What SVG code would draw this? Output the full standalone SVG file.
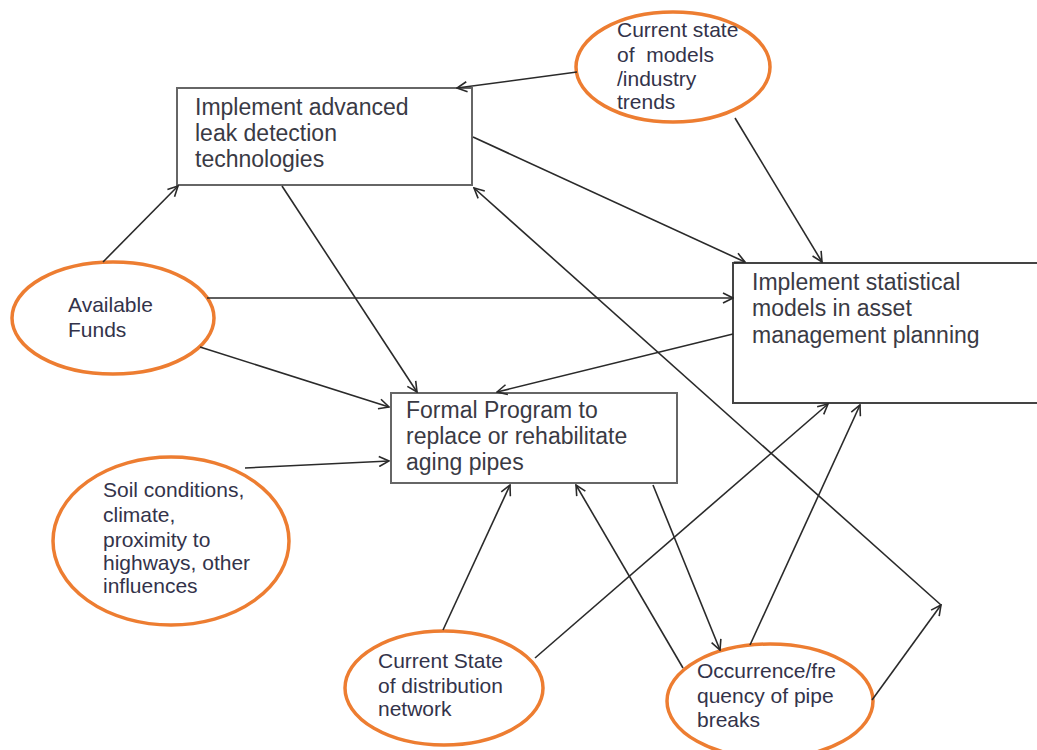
<svg xmlns="http://www.w3.org/2000/svg" width="1037" height="750" viewBox="0 0 1037 750">
<style>
.box{fill:#fff;stroke:#666;stroke-width:2}
.ell{fill:#fff;stroke:#ED7D31;stroke-width:3.5}
.bt{font-family:"Liberation Sans",Arial,sans-serif;font-size:23px;fill:#3a3a44}
.et{font-family:"Liberation Sans",Arial,sans-serif;font-size:21px;fill:#33334a;white-space:pre}
.c line{stroke:#2a2a2a;stroke-width:1.6;marker-end:url(#ah)}
</style>
<defs>
<marker id="ah" viewBox="0 0 12 12" refX="11" refY="6" markerWidth="12" markerHeight="12" markerUnits="userSpaceOnUse" orient="auto">
<path d="M1,1 L11,6 L1,11" fill="none" stroke="#2a2a2a" stroke-width="1.6"/>
</marker>
</defs>
<rect width="1037" height="750" fill="#fff"/>
<g id="n-leak">
<rect class="box" x="177" y="88" width="295" height="97"/>
<text class="bt" x="195" y="115">Implement advanced</text>
<text class="bt" x="195" y="141">leak detection</text>
<text class="bt" x="195" y="167">technologies</text>
</g>
<g id="n-stat">
<rect class="box" x="733" y="263" width="310" height="140" style="stroke:#444"/>
<text class="bt" x="752" y="290">Implement statistical</text>
<text class="bt" x="752" y="316">models in asset</text>
<text class="bt" x="752" y="343">management planning</text>
</g>
<g id="n-formal">
<rect class="box" x="391" y="393" width="286" height="90"/>
<text class="bt" x="406" y="418">Formal Program to</text>
<text class="bt" x="406" y="444">replace or rehabilitate</text>
<text class="bt" x="406" y="470">aging pipes</text>
</g>
<g id="n-models">
<ellipse class="ell" cx="673" cy="67" rx="97" ry="55"/>
<text class="et" x="617" y="37">Current state</text>
<text class="et" x="617" y="62">of  models</text>
<text class="et" x="617" y="86">/industry</text>
<text class="et" x="617" y="109">trends</text>
</g>
<g id="n-funds">
<ellipse class="ell" cx="113" cy="318" rx="101" ry="56"/>
<text class="et" x="68" y="312">Available</text>
<text class="et" x="68" y="337">Funds</text>
</g>
<g id="n-soil">
<ellipse class="ell" cx="171" cy="541" rx="118" ry="84"/>
<text class="et" x="103" y="497">Soil conditions,</text>
<text class="et" x="103" y="522">climate,</text>
<text class="et" x="103" y="547">proximity to</text>
<text class="et" x="103" y="570">highways, other</text>
<text class="et" x="103" y="593">influences</text>
</g>
<g id="n-network">
<ellipse class="ell" cx="444" cy="688" rx="99" ry="57"/>
<text class="et" x="378" y="668">Current State</text>
<text class="et" x="378" y="693">of distribution</text>
<text class="et" x="378" y="716">network</text>
</g>
<g id="n-breaks">
<ellipse class="ell" cx="770" cy="701" rx="103" ry="57"/>
<text class="et" x="697" y="678">Occurrence/fre</text>
<text class="et" x="697" y="703">quency of pipe</text>
<text class="et" x="697" y="727">breaks</text>
</g>
<g id="connectors" class="c">
<line x1="577" y1="72" x2="457" y2="88"/>
<line x1="735" y1="118" x2="822" y2="262"/>
<line x1="473" y1="137" x2="745" y2="262"/>
<line x1="103" y1="262" x2="178" y2="186"/>
<line x1="207" y1="298" x2="733" y2="298"/>
<line x1="200" y1="347" x2="389" y2="407"/>
<line x1="282" y1="186" x2="417" y2="392"/>
<line x1="733" y1="334" x2="497" y2="392"/>
<line x1="245" y1="468" x2="389" y2="461"/>
<line x1="443" y1="630" x2="510" y2="485"/>
<line x1="535" y1="658" x2="828" y2="404"/>
<line x1="683" y1="668" x2="576" y2="485"/>
<line x1="653" y1="485" x2="720" y2="650"/>
<line x1="750" y1="645" x2="860" y2="405"/>
<line x1="872" y1="700" x2="941" y2="605"/>
<line x1="941" y1="605" x2="474" y2="188"/>
</g>
</svg>
